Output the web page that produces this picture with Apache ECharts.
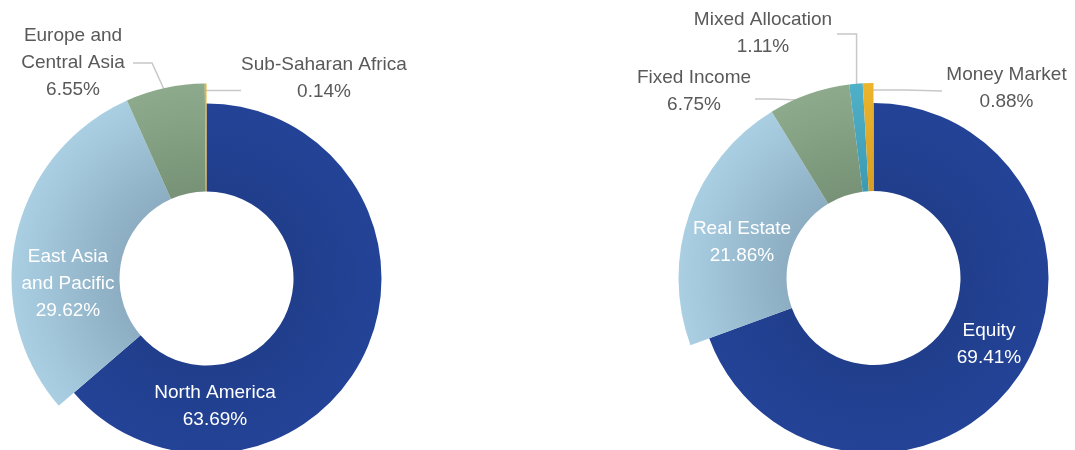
<!DOCTYPE html>
<html>
<head>
<meta charset="utf-8">
<script src="https://cdn.jsdelivr.net/npm/echarts@6/dist/echarts.min.js"></script>
<style>
  html, body { margin: 0; padding: 0; background: #ffffff; }
  #chart { width: 1075px; height: 450px; }
</style>
</head>
<body>
<div id="chart"></div>
<script>
// Shares by region (left donut) and by asset class (right donut), in percent
const regionNames  = ['North America', 'East Asia and Pacific', 'Europe and Central Asia', 'Sub-Saharan Africa'];
const regionLabels = ['North America', 'East Asia\nand Pacific', 'Europe and\nCentral Asia', 'Sub-Saharan Africa'];
const regionShares = [63.69, 29.62, 6.55, 0.14];

const assetNames  = ['Equity', 'Real Estate', 'Fixed Income', 'Mixed Allocation', 'Money Market'];
const assetLabels = ['Equity', 'Real Estate', 'Fixed Income', 'Mixed Allocation', 'Money Market'];
const assetShares = [69.41, 21.86, 6.75, 1.11, 0.88];

// ---- styling / layout -------------------------------------------------------
const FONT = '"Liberation Sans Narrow", "Arial Narrow", "Liberation Sans", sans-serif';
const FONT_SIZE = 19;
const INNER_R = 87;    // hole
const MAIN_R = 175;    // outer radius of the largest slice
const OUTER_R = 195;   // outer radius of the remaining slices
const ANCHOR_R = 188;  // where leader lines touch the slices

const leftCenter = [206.5, 278.5];
const rightCenter = [873.5, 278];

// colour pairs: [inner edge, outer edge]
const palette = {
  navy:  ['#203e8b', '#24449a'],
  sky:   ['#8cadc2', '#aacfe3'],
  sage:  ['#779276', '#8dab8c'],
  teal:  ['#3c9bb2', '#50b0c8'],
  gold:  ['#d69e26', '#ecb52c']
};
const regionColors = ['navy', 'sky', 'sage', 'gold'];
const assetColors  = ['navy', 'sky', 'sage', 'teal', 'gold'];

// label placement: block centre, whether it sits inside the ring, leader path
const regionLabelSpec = {
  'North America':           { at: [215, 406.5], inside: true },
  'East Asia and Pacific':   { at: [68, 284],    inside: true },
  'Europe and Central Asia': { at: [73, 62.5],  line: [[152, 63], [133, 63]] },
  'Sub-Saharan Africa':      { at: [324, 78.5], line: [[222, null], [241, null]] }
};
const assetLabelSpec = {
  'Equity':           { at: [989, 344.5], inside: true },
  'Real Estate':      { at: [742, 242],   inside: true },
  'Fixed Income':     { at: [694, 91],    line: [[773, 99], [755, 99]] },
  'Mixed Allocation': { at: [763, 33],    line: [[null, 34], [837, 34]] },
  'Money Market':     { at: [1006.5, 88.5], line: [[905, 90], [942, 91]] }
};

function ringFill(center, key) {
  const c = palette[key];
  return {
    type: 'radial', x: center[0], y: center[1], r: OUTER_R, global: true,
    colorStops: [
      { offset: 0, color: c[0] },
      { offset: INNER_R / OUTER_R, color: c[0] },
      { offset: 1, color: c[1] }
    ]
  };
}

function makeLayout(names, shares, center, spec) {
  const total = shares.reduce((a, b) => a + b, 0);
  return function (params) {
    const i = params.dataIndex;
    const s = spec[names[i]];
    const before = shares.slice(0, i).reduce((a, b) => a + b, 0);
    const mid = (before + shares[i] / 2) / total * 2 * Math.PI;
    const anchor = [center[0] + ANCHOR_R * Math.sin(mid), center[1] - ANCHOR_R * Math.cos(mid)];
    const out = { x: s.at[0], y: s.at[1], align: 'center', verticalAlign: 'middle' };
    if (s.line) {
      out.labelLinePoints = [anchor].concat(
        s.line.map(p => [p[0] == null ? anchor[0] : p[0], p[1] == null ? anchor[1] : p[1]])
      );
    }
    return out;
  };
}

// Two rings per donut: the base ring draws the dominant slice at MAIN_R,
// the upper ring draws every other slice at OUTER_R and carries all labels.
function donutSeries(names, labels, shares, colors, center, spec) {
  const base = {
    type: 'pie', silent: true, clockwise: true, startAngle: 90,
    center: center, radius: [INNER_R, MAIN_R],
    label: { show: false }, labelLine: { show: false },
    emphasis: { disabled: true },
    data: names.map((n, i) => ({
      name: n, value: shares[i],
      itemStyle: { color: i === 0 ? ringFill(center, colors[i]) : 'rgba(0,0,0,0)' }
    }))
  };
  const upper = {
    type: 'pie', silent: true, clockwise: true, startAngle: 90,
    center: center, radius: [INNER_R, OUTER_R],
    avoidLabelOverlap: false,
    emphasis: { disabled: true },
    labelLine: { show: true, length: 5, length2: 5, smooth: false,
                 lineStyle: { color: '#c8c8c8', width: 1.5 } },
    labelLayout: makeLayout(names, shares, center, spec),
    data: names.map((n, i) => {
      const s = spec[n];
      return {
        name: n, value: shares[i],
        itemStyle: { color: i === 0 ? 'rgba(0,0,0,0)' : ringFill(center, colors[i]) },
        label: {
          show: true,
          position: s.inside ? 'inside' : 'outside',
          formatter: labels[i] + '\n' + shares[i].toFixed(2) + '%',
          color: s.inside ? '#ffffff' : '#595959',
          fontFamily: FONT, fontSize: FONT_SIZE, lineHeight: 27, align: 'center'
        },
        labelLine: { show: !s.inside }
      };
    })
  };
  return [base, upper];
}

const chart = echarts.init(document.getElementById('chart'), null, { renderer: 'canvas' });
chart.setOption({
  backgroundColor: '#ffffff',
  animation: false,
  series: [
    ...donutSeries(regionNames, regionLabels, regionShares, regionColors, leftCenter, regionLabelSpec),
    ...donutSeries(assetNames, assetLabels, assetShares, assetColors, rightCenter, assetLabelSpec)
  ]
});
</script>
</body>
</html>
